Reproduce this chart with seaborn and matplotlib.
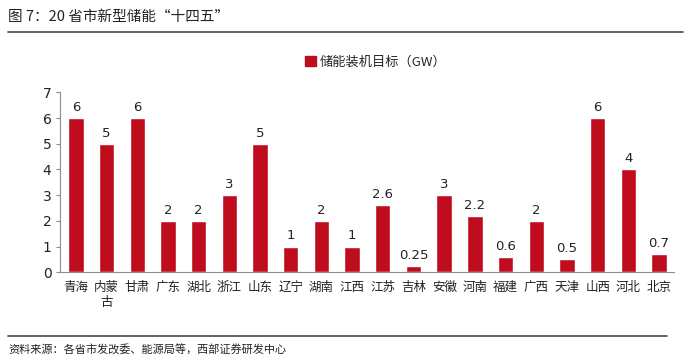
import numpy as np
import pandas as pd
import matplotlib
matplotlib.use("Agg")
import matplotlib.pyplot as plt
import seaborn as sns
from matplotlib.patches import Patch
from matplotlib.lines import Line2D

provinces = ["青海", "内蒙\n古", "甘肃", "广东", "湖北", "浙江", "山东", "辽宁", "湖南", "江西",
             "江苏", "吉林", "安徽", "河南", "福建", "广西", "天津", "山西", "河北", "北京"]
targets = [6, 5, 6, 2, 2, 3, 5, 1, 2, 1, 2.6, 0.25, 3, 2.2, 0.6, 2, 0.5, 6, 4, 0.7]
series_name = "储能装机目标（GW）"
title = "图 7：20 省市新型储能“十四五”"
source = "资料来源：各省市发改委、能源局等，西部证券研发中心"

sns.set_theme(style="white")
plt.rcParams['font.family'] = ['Noto Sans CJK SC', 'DejaVu Sans']

red = "#C00D1E"
grey = "#8C8C8C"

df = pd.DataFrame({"province": provinces, "target": targets})

fig = plt.figure(figsize=(7, 3.61), dpi=100)
ax = fig.add_axes([0.0864, 0.2457, 0.877, 0.4985])

sns.barplot(data=df, x="province", y="target", color=red, width=0.5,
            saturation=1, ax=ax)

ax.bar_label(ax.containers[0], labels=[f"{v:g}" for v in targets],
             padding=3, fontsize=9.5, color="#222222", family="DejaVu Sans")

ax.set_ylim(0, 7)
ax.set_xlim(-0.5, len(provinces) - 0.5)
ax.set_yticks(range(8))
ax.set_xlabel("")
ax.set_ylabel("")

for s in ["top", "right"]:
    ax.spines[s].set_visible(False)
for s in ["left", "bottom"]:
    ax.spines[s].set_color(grey)
    ax.spines[s].set_linewidth(0.8)

ax.tick_params(axis="x", which="major", length=0, labelsize=9, colors="#222222", pad=6)
ax.set_xticks(np.arange(-0.5, len(provinces), 1), minor=True)
ax.tick_params(axis="x", which="minor", length=3, width=0.8, color=grey, direction="out")
ax.tick_params(axis="y", length=3, width=0.8, color=grey, direction="out",
               labelsize=10, labelcolor="#222222", left=True)
for lab in ax.get_yticklabels():
    lab.set_family("DejaVu Sans")

handle = Patch(facecolor=red, edgecolor=red)
fig.legend([handle], [series_name], loc="center", bbox_to_anchor=(0.537, 0.828),
           frameon=False, fontsize=9.5, handlelength=0.8, handleheight=0.8,
           handletextpad=0.3)

fig.text(0.012, 0.952, title, fontsize=10.5, color="#222222", va="center", ha="left")
fig.add_artist(Line2D([0.012, 0.976], [0.912, 0.912], color="#555555", lw=1.3,
                      transform=fig.transFigure))
fig.add_artist(Line2D([0.012, 0.953], [0.07, 0.07], color="#555555", lw=1.3,
                      transform=fig.transFigure))
fig.text(0.012, 0.03, source, fontsize=8, color="#222222", va="center", ha="left")

fig.savefig("out.png", dpi=100)
plt.close(fig)
